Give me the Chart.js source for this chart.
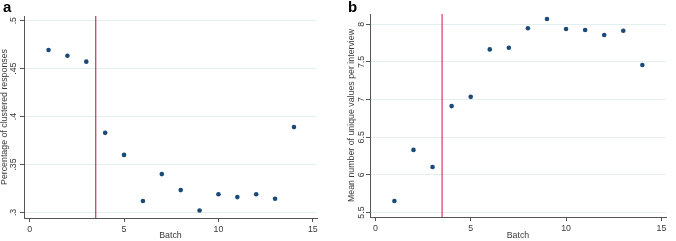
<!DOCTYPE html>
<html lang="en">
<head>
  <meta charset="UTF-8" />
  <title>Batch plots</title>
  <script src="https://cdn.jsdelivr.net/npm/chart.js"></script>
  <style>
    body {
      margin: 0;
      width: 676px;
      height: 241px;
      background: #fff;
      font-family: 'Liberation Sans', Arial, sans-serif;
      position: relative;
      overflow: hidden;
    }
    .panel {
      position: absolute;
      top: 0;
      height: 241px;
    }
    .letter {
      position: absolute;
      top: -2px;
      font-weight: bold;
      font-size: 15px;
      color: #000;
      z-index: 2;
    }
  </style>
</head>
<body>
  <div class="panel" style="left:0;width:336px"><canvas id="chartA"></canvas></div>
  <div class="panel" style="left:336px;width:340px"><canvas id="chartB"></canvas></div>
  <div class="letter" style="left:3px">a</div>
  <div class="letter" style="left:348px">b</div>

  <script>
    const BATCH = [1, 2, 3, 4, 5, 6, 7, 8, 9, 10, 11, 12, 13, 14];
    const CLUSTERED = [0.4695, 0.4635, 0.4573, 0.383, 0.360, 0.312, 0.340, 0.3233, 0.302, 0.319, 0.316, 0.319, 0.3143, 0.389];
    const UNIQUE = [5.654, 6.332, 6.106, 6.914, 7.037, 7.667, 7.689, 7.947, 8.07, 7.937, 7.924, 7.858, 7.915, 7.459];
    const CUTOFF = 3.5;
    const X_TICKS = [0, 5, 10, 15];
    const Y_TICKS_A = [0.3, 0.35, 0.4, 0.45, 0.5];
    const Y_LABELS_A = ['.3', '.35', '.4', '.45', '.5'];
    const Y_TICKS_B = [5.5, 6, 6.5, 7, 7.5, 8];
    const Y_LABELS_B = ['5.5', '6', '6.5', '7', '7.5', '8'];

    const FONT = "'Liberation Sans', Arial, sans-serif";
    const FSIZE = 8.8;

    // y tick labels and y title are drawn rotated, Stata style
    const rotatedY = {
      id: 'rotatedY',
      afterDraw(chart, args, opts) {
        const ctx = chart.ctx;
        const y = chart.scales.y;
        ctx.save();
        ctx.fillStyle = '#3a3a3a';
        ctx.font = FSIZE + 'px ' + FONT;
        ctx.textAlign = 'center';
        ctx.textBaseline = 'middle';
        opts.ticks.forEach((v, i) => {
          ctx.save();
          ctx.translate(opts.labelX, y.getPixelForValue(v));
          ctx.rotate(-Math.PI / 2);
          ctx.fillText(opts.labels[i], 0, 0);
          ctx.restore();
        });
        const area = chart.chartArea;
        ctx.translate(opts.titleX, (area.top + area.bottom) / 2);
        ctx.rotate(-Math.PI / 2);
        ctx.fillText(opts.title, 0, 0);
        ctx.restore();
      }
    };

    function makeChart(id, cfg) {
      const points = BATCH.map((b, i) => ({ x: b, y: cfg.values[i] }));
      return new Chart(document.getElementById(id), {
        type: 'scatter',
        data: {
          datasets: [
            {
              type: 'line',
              data: [{ x: CUTOFF, y: cfg.yMin }, { x: CUTOFF, y: cfg.yMax }],
              borderColor: cfg.lineColor,
              borderWidth: 1.2,
              pointRadius: 0,
              order: 2
            },
            {
              data: points,
              backgroundColor: '#1a4a78',
              borderWidth: 0,
              pointRadius: 2.3,
              order: 1
            }
          ]
        },
        options: {
          responsive: true,
          maintainAspectRatio: false,
          animation: false,
          layout: { padding: { left: 0, top: cfg.top, right: cfg.right, bottom: 0 } },
          plugins: {
            legend: { display: false },
            tooltip: { enabled: false },
            rotatedY: {
              ticks: cfg.yTicks,
              labels: cfg.yLabels,
              labelX: cfg.labelX,
              titleX: cfg.titleX,
              title: cfg.title
            }
          },
          scales: {
            x: {
              type: 'linear',
              min: cfg.xMin,
              max: cfg.xMax,
              afterBuildTicks: s => { s.ticks = X_TICKS.map(v => ({ value: v })); },
              afterFit: s => { s.height = cfg.xHeight; },
              grid: { drawOnChartArea: false, drawTicks: true, tickLength: 4, tickColor: '#555' },
              border: { color: '#555', width: 1 },
              ticks: { color: '#3a3a3a', font: { size: FSIZE, family: FONT }, padding: 2, maxRotation: 0 },
              title: { display: true, text: 'Batch', color: '#3a3a3a', font: { size: FSIZE, family: FONT }, padding: { top: -1, bottom: 0 } }
            },
            y: {
              type: 'linear',
              min: cfg.yMin,
              max: cfg.yMax,
              afterBuildTicks: s => { s.ticks = cfg.yTicks.map(v => ({ value: v })); },
              afterFit: s => { s.width = cfg.left; },
              grid: { color: '#e3eeee', lineWidth: 1, drawTicks: true, tickLength: 4, tickColor: '#555' },
              border: { color: '#555', width: 1 },
              ticks: { display: false }
            }
          }
        },
        plugins: [rotatedY]
      });
    }

    makeChart('chartA', {
      values: CLUSTERED,
      yMin: 0.2942, yMax: 0.5049,
      xMin: -0.3, xMax: 15.22,
      yTicks: Y_TICKS_A, yLabels: Y_LABELS_A,
      lineColor: '#c4354c',
      top: 16, right: 19, left: 24, xHeight: 23,
      labelX: 14, titleX: 4.5,
      title: 'Percentage of clustered responses'
    });

    makeChart('chartB', {
      values: UNIQUE,
      yMin: 5.441, yMax: 8.137,
      xMin: -0.28, xMax: 15.24,
      yTicks: Y_TICKS_B, yLabels: Y_LABELS_B,
      lineColor: '#dc3562',
      top: 14, right: 10, left: 34, xHeight: 24,
      labelX: 25.5, titleX: 16,
      title: 'Mean number of unique values per interview'
    });
  </script>
</body>
</html>
